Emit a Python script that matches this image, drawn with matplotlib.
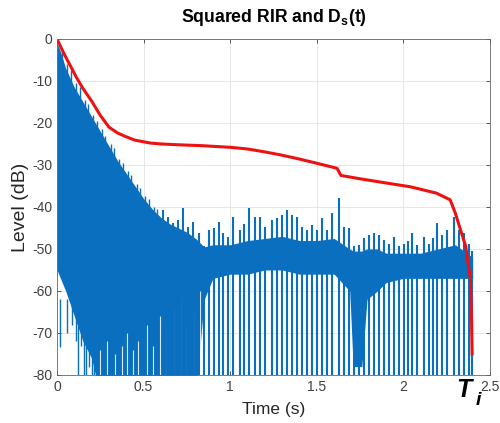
import matplotlib
matplotlib.use("Agg")
import matplotlib.pyplot as plt
import numpy as np

plt.rcParams['font.family'] = ['Liberation Sans', 'DejaVu Sans']
plt.rcParams['axes.unicode_minus'] = False
plt.rcParams['mathtext.fontset'] = 'custom'
plt.rcParams['mathtext.bf'] = 'Liberation Sans:bold'

# squared RIR: dense band (top/bottom) + single spikes
t_env = [0, 0.02, 0.05, 0.1, 0.15, 0.2, 0.25, 0.3, 0.35, 0.4,
         0.45, 0.5, 0.55, 0.6, 0.65, 0.7, 0.75, 0.8, 0.85, 0.9,
         1.0, 1.1, 1.2, 1.3, 1.4, 1.5, 1.6, 1.69, 1.71, 1.76,
         1.79, 1.85, 1.9, 2.0, 2.1, 2.2, 2.3, 2.4]
env_top = [-1, -3, -7, -11.5, -15, -18.5, -22, -25.5, -29, -32,
           -35, -38, -40.5, -42.5, -44, -45, -46, -47.5, -49.5, -49,
           -49, -48, -47.5, -47, -48, -48, -47.5, -50, -50.5, -50.5,
           -50, -50, -51, -51, -51, -50, -49, -52]
env_bot = [-55, -57, -60, -66, -72, -76, -85, -85, -85, -85,
           -85, -85, -85, -85, -85, -85, -85, -85, -62, -57,
           -56, -56, -55, -55, -56, -56, -56, -60, -78, -78,
           -62, -60, -58, -57, -57, -57, -57, -57]

# peaks sticking out of the early decay
early_t = [0.03, 0.06, 0.08, 0.11, 0.13, 0.16, 0.18, 0.21, 0.23, 0.26,
           0.28, 0.31, 0.33, 0.36, 0.38, 0.41, 0.43, 0.46, 0.48, 0.51,
           0.53, 0.56, 0.58]
early_top = [-2.5, -6, -7.5, -10.5, -11.5, -14.5, -15.5, -18, -19.5, -21.5,
             -23, -25, -26, -28.5, -29.5, -31.5, -32.5, -34.5, -35.5, -37.5,
             -38, -40, -40.5]

spike_t = [0.614, 0.643, 0.672, 0.701, 0.730, 0.759, 0.788, 0.817, 0.846, 0.875,
           0.904, 0.933, 0.961, 0.99, 1.019, 1.058, 1.082, 1.106, 1.145, 1.173, 1.202,
           1.241, 1.270, 1.299, 1.328, 1.357, 1.386, 1.414, 1.443, 1.472, 1.501,
           1.530, 1.559, 1.588, 1.626, 1.655, 1.684, 1.713, 1.742, 1.771, 1.800, 1.828,
           1.857, 1.886, 1.915, 1.944, 1.973, 2.002, 2.026, 2.050, 2.079, 2.117,
           2.146, 2.170, 2.195, 2.224, 2.253, 2.291, 2.320, 2.349, 2.378, 2.397]
spike_top = [-40.7, -42.3, -43.9, -43.1, -40.3, -44.7, -43.5, -46.3, -49.4, -45.5,
             -45.1, -43.5, -46.3, -47.1, -42.3, -45.5, -44.0, -40.3, -42.3, -42.3, -44.7,
             -43.1, -42.7, -41.9, -40.7, -41.9, -42.3, -44.7, -45.5, -44.3, -45.5,
             -42.7, -45.5, -41.5, -37.9, -44.7, -45.1, -49.4, -49.0, -47.5, -46.7, -46.3,
             -46.7, -47.9, -48.7, -47.1, -49.4, -48.7, -48.0, -46.3, -49.0, -47.1,
             -48.7, -47.5, -43.9, -46.7, -45.5, -42.3, -45.5, -46.3, -48.7, -50.6]

low_t = [0.017, 0.035, 0.056, 0.085, 0.11, 0.123, 0.14, 0.155, 0.17, 0.185, 0.2, 0.215, 0.23]
low_bot = [-73.3, -62, -70, -68, -72, -85, -73, -85, -85, -78, -85, -85, -85]

gap_t = [0.249, 0.287, 0.335, 0.374, 0.403, 0.441, 0.470, 0.518,
         0.557, 0.595, 0.634, 0.672, 0.721, 0.750, 0.788, 0.827]
gap_top = [-74, -72, -75, -73, -70, -74, -72, -68,
           -73, -66, -70, -64, -62, -68, -65, -60]

# D_s(t)
t_ds = [0, 0.025, 0.05, 0.08, 0.11, 0.15, 0.2, 0.25, 0.3, 0.35,
        0.4, 0.45, 0.54, 0.6, 0.7, 0.83, 1.0, 1.1, 1.2, 1.29,
        1.4, 1.5, 1.617, 1.63, 1.64, 1.75, 1.886, 2.04, 2.19, 2.27,
        2.30, 2.33, 2.36, 2.376, 2.387, 2.393, 2.397]
ds = [0, -2.2, -4.3, -6.6, -9, -11.8, -14.8, -18.2, -21, -22.4,
      -23.3, -24.1, -24.8, -25.0, -25.2, -25.4, -25.8, -26.2, -26.9, -27.6,
      -28.6, -29.6, -30.8, -31.8, -32.5, -33.3, -34.2, -35.2, -36.7, -38.3,
      -41.5, -45.5, -49.4, -54.2, -57, -66, -75]

blue = '#0b6fbf'
txt = '#262626'

fig = plt.figure(figsize=(5, 4.23), dpi=100)
ax = fig.add_axes([0.114, 0.1135, 0.866, 0.7945])
ax.set_axisbelow(True)
ax.grid(color='#e3e3e3', lw=0.6)

ax.fill_between(t_env, env_bot, env_top, color=blue, lw=0)
# only the part above the band is drawn, so no seams inside the fill
early_base = np.interp(early_t, t_env, env_top) - 1
ax.vlines(early_t, early_base, early_top, color=blue, lw=1.0)
ax.vlines(gap_t, -85, gap_top, color='white', lw=0.8, alpha=0.85)
ax.vlines(low_t, -62, low_bot, color=blue, lw=1.0)
ax.vlines(spike_t, -85, spike_top, color=blue, lw=1.5)
ax.plot(t_ds, ds, color='#ee1111', lw=2.2)

ax.set_xlim(0, 2.5)
ax.set_ylim(-80, 0)
ax.set_xticks([0, 0.5, 1, 1.5, 2, 2.5])
ax.set_xticklabels(['0', '0.5', '1', '1.5', '2', '2.5'])
ax.set_yticks(range(-80, 1, 10))
ax.tick_params(direction='in', top=True, right=True, length=3, width=0.6,
               labelsize=10, colors='#404040')
for s in ax.spines.values():
    s.set_color('#666666')
    s.set_linewidth(0.6)

ax.set_title(r'Squared RIR and D$_{\mathbf{s}}$(t)', fontweight='bold',
             fontsize=12.7, color='black', pad=12)
ax.set_xlabel('Time (s)', fontsize=12.5, color=txt, labelpad=6)
ax.set_ylabel('Level (dB)', fontsize=14, color=txt, labelpad=2)

fig.text(0.912, 0.062, 'T', fontsize=18, fontweight='bold', fontstyle='italic',
         color='black')
fig.text(0.951, 0.042, 'i', fontsize=14, fontweight='bold', fontstyle='italic',
         color='black')

fig.savefig('out.png', dpi=100)
